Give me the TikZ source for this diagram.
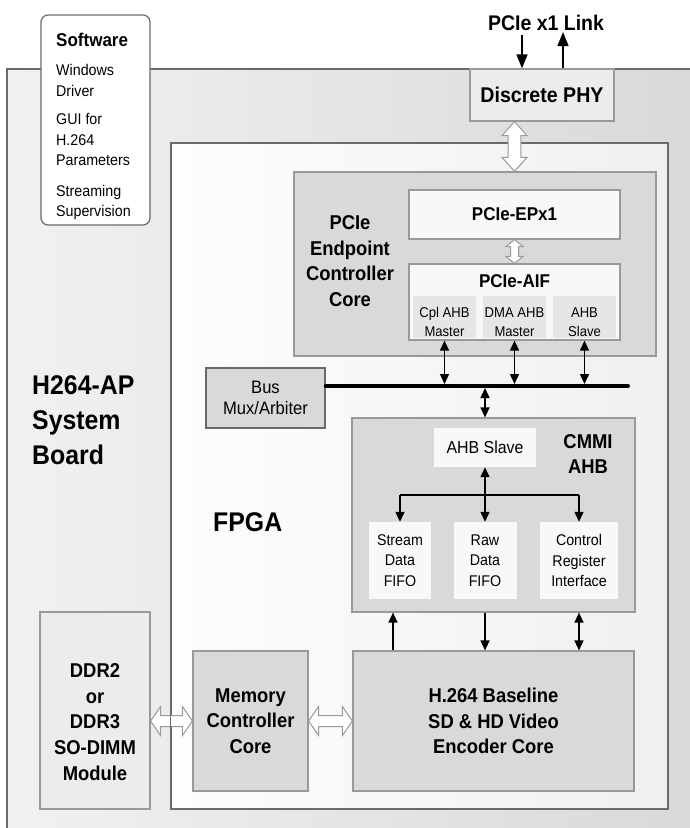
\documentclass[tikz,border=0pt]{standalone}
\usepackage{fontspec}
\setmainfont{Liberation Sans}[FakeStretch=0.92]
\usetikzlibrary{arrows.meta,calc}

\definecolor{boardL}{HTML}{F1F1F1}
\definecolor{boardR}{HTML}{D8D8D8}
\definecolor{fpgaL}{HTML}{FDFDFD}
\definecolor{fpgaR}{HTML}{F0F0F0}
\definecolor{coregray}{HTML}{D9D9D9}
\definecolor{lightgray}{HTML}{ECECEC}
\definecolor{subgray}{HTML}{E6E6E6}
\definecolor{paper}{HTML}{F8F8F8}
\definecolor{edgedark}{HTML}{6A6A6A}
\definecolor{edgemid}{HTML}{999999}

% vertical hollow double arrow: start (upper), end (lower), half shaft, half head, head length
\newcommand{\hollowV}[5]{%
  \draw[hollow] let \p1=(#1), \p2=(#2) in
    (\x1,\y1) -- (\x1+#4,\y1-#5) -- (\x1+#3,\y1-#5) -- (\x1+#3,\y2+#5) -- (\x1+#4,\y2+#5)
    -- (\x1,\y2) -- (\x1-#4,\y2+#5) -- (\x1-#3,\y2+#5) -- (\x1-#3,\y1-#5) -- (\x1-#4,\y1-#5) -- cycle;}
% horizontal hollow double arrow: start (left), end (right), half shaft, half head, head length
\newcommand{\hollowH}[5]{%
  \draw[hollow] let \p1=(#1), \p2=(#2) in
    (\x1,\y1) -- (\x1+#5,\y1+#4) -- (\x1+#5,\y1+#3) -- (\x2-#5,\y1+#3) -- (\x2-#5,\y1+#4)
    -- (\x2,\y1) -- (\x2-#5,\y1-#4) -- (\x2-#5,\y1-#3) -- (\x1+#5,\y1-#3) -- (\x1+#5,\y1-#4) -- cycle;}

\tikzset{
  blk/.style={draw=edgemid, line width=1.2pt, inner sep=0pt, align=center},
  flat/.style={inner sep=0pt, align=center},
  txt/.style={inner sep=0pt, align=center},
  bigbold/.style={font=\fontsize{27}{35}\selectfont\bfseries},
  hdbold/.style={font=\fontsize{20}{25.7}\selectfont\bfseries},
  bodytxt/.style={font=\fontsize{15.5}{20.5}\selectfont},
  smalltxt/.style={font=\fontsize{14.2}{19}\selectfont},
  bustxt/.style={font=\fontsize{18}{21}\selectfont},
  hollow/.style={draw=edgemid, fill=white, line width=1pt, line join=miter},
  wire/.style={line width=1.4pt},
  arr/.style={wire, -{Triangle[length=10pt,width=9pt]}},
  darr/.style={wire, {Triangle[length=10pt,width=9pt]}-{Triangle[length=10pt,width=9pt]}},
  linkarr/.style={wire, -{Triangle[length=14pt,width=11pt]}},
  busline/.style={line width=4pt, line cap=round},
}

\begin{document}
\begin{tikzpicture}[x=1pt,y=-1pt]
\useasboundingbox (0,0) rectangle (690,828);
\clip (0,0) rectangle (690,828);

% system board
\node[draw=edgedark, line width=1.3pt, left color=boardL, right color=boardR,
      minimum width=713pt, minimum height=791pt, inner sep=0pt] (board) at (363.5,464.5) {};
\node[bigbold, txt, align=left, anchor=west] (boardlbl) at (32,420) {H264-AP\\System\\Board};

% software box
\node[draw=edgedark, line width=1.2pt, fill=white, rounded corners=7pt,
      minimum width=109pt, minimum height=210pt, inner sep=0pt] (sw) at (95.5,120) {};
\node[bodytxt, inner sep=0pt, align=left, anchor=north west] (swtext) at (56,32.5)
  {{\fontsize{18.5}{20}\selectfont\bfseries Software}\\[9pt]
   Windows\\Driver\\[8pt]GUI for\\H.264\\Parameters\\[10pt]Streaming\\Supervision};

% PHY and link
\node[blk, fill=lightgray, draw=edgemid, minimum width=144pt, minimum height=52pt,
      font=\fontsize{21.3}{24}\selectfont\bfseries] (phy) at (542,95) {Discrete PHY};
\node[txt, font=\fontsize{21.2}{24}\selectfont\bfseries] (link) at (546,23) {PCIe x1 Link};
\coordinate (rxin) at (522,35);
\coordinate (txout) at (563,32);
\draw[linkarr] (rxin) -- (rxin |- phy.north);
\draw[linkarr] (txout |- phy.north) -- (txout);

% FPGA
\node[draw=edgedark, line width=1.3pt, left color=fpgaL, right color=fpgaR,
      minimum width=497pt, minimum height=666pt, inner sep=0pt] (fpga) at (419.5,476) {};
\node[bigbold, txt, anchor=west] (fpgalbl) at (213,522) {FPGA};

% PCIe endpoint controller core
\node[blk, fill=coregray, minimum width=362pt, minimum height=184pt] (pcore) at (475,264) {};
\node[hdbold, txt] (pcorelbl) at (350,261) {PCIe\\Endpoint\\Controller\\Core};
\node[blk, fill=paper, minimum width=211pt, minimum height=49pt,
      font=\fontsize{18.5}{22}\selectfont\bfseries] (epx1) at (514.5,214.5) {PCIe-EPx1};
\node[blk, fill=paper, minimum width=211pt, minimum height=76pt] (aif) at (514.5,302) {};
\node[txt, font=\fontsize{18.5}{22}\selectfont\bfseries] (aiflbl) at (514.5,281) {PCIe-AIF};
\node[flat, fill=subgray, minimum width=63pt, minimum height=42pt] (cpl) at (444.5,317) {};
\node[flat, fill=subgray, minimum width=63pt, minimum height=42pt] (dma) at (514.5,317) {};
\node[flat, fill=subgray, minimum width=63pt, minimum height=42pt] (ahbm) at (584.5,317) {};
\node[smalltxt, txt] (cpltxt) at ($(cpl.center)+(0,5)$) {Cpl AHB\\Master};
\node[smalltxt, txt] (dmatxt) at ($(dma.center)+(0,5)$) {DMA AHB\\Master};
\node[smalltxt, txt] (ahbmtxt) at ($(ahbm.center)+(0,5)$) {AHB\\Slave};

% bus and arbiter
\node[draw=edgedark, line width=1.4pt, fill=coregray, minimum width=119pt, minimum height=60pt,
      inner sep=0pt, align=center, bustxt] (busmux) at (265.5,398) {Bus\\Mux/Arbiter};
\coordinate (busR) at (628,386);
\draw[busline] (busmux.east |- busR) -- (busR);
\draw[darr, shorten >=2pt] (cpl.south |- aif.south) -- (cpl.south |- busR);
\draw[darr, shorten >=2pt] (dma.south |- aif.south) -- (dma.south |- busR);
\draw[darr, shorten >=2pt] (ahbm.south |- aif.south) -- (ahbm.south |- busR);

% CMMI AHB
\node[blk, fill=coregray, minimum width=283pt, minimum height=194pt] (cmmi) at (493.5,515) {};
\node[hdbold, txt] (cmmilbl) at (588,454) {CMMI\\AHB};
\node[flat, fill=paper, minimum width=102pt, minimum height=39pt,
      font=\fontsize{17.3}{20}\selectfont] (ahbs) at (485,447.5) {AHB Slave};
\node[flat, fill=paper, minimum width=62pt, minimum height=77pt, bodytxt] (sfifo) at (400,560.5) {Stream\\Data\\FIFO};
\node[flat, fill=paper, minimum width=63pt, minimum height=77pt, bodytxt] (rfifo) at (485,560.5) {Raw\\Data\\FIFO};
\node[flat, fill=paper, minimum width=78pt, minimum height=77pt, bodytxt] (ctrl) at (579,560.5) {Control\\Register\\Interface};
\draw[darr, shorten <=2pt] (ahbs.north |- busR) -- (ahbs.north |- cmmi.north);
\draw[darr] (ahbs.south) -- (rfifo.north);
\coordinate (junc) at (485,495);
\draw[wire] (sfifo.north |- junc) -- (ctrl.north |- junc);
\draw[arr] (sfifo.north |- junc) -- (sfifo.north);
\draw[arr] (ctrl.north |- junc) -- (ctrl.north);

% memory, encoder
\node[draw=edgemid, line width=1.2pt, fill=lightgray, minimum width=110pt, minimum height=197pt, inner sep=0pt] (ddr) at (95,710.5) {};
\node[hdbold, txt] (ddrtxt) at (95,722) {DDR2\\or\\DDR3\\SO-DIMM\\Module};
\node[blk, fill=coregray, minimum width=115pt, minimum height=140pt, hdbold] (memc) at (250.5,721) {Memory\\Controller\\Core};
\node[blk, fill=coregray, minimum width=281pt, minimum height=140pt, hdbold] (enc) at (493.5,721) {H.264 Baseline\\SD \& HD Video\\Encoder Core};

\coordinate (sfx) at (393,630);
\draw[arr] (sfx |- enc.north) -- (sfx |- cmmi.south);
\draw[arr] (rfifo.south |- cmmi.south) -- (rfifo.south |- enc.north);
\draw[darr] (ctrl.south |- cmmi.south) -- (ctrl.south |- enc.north);

% wide data paths
\hollowV{epx1.north |- phy.south}{epx1.north |- pcore.north}{6.3pt}{12.5pt}{14pt}
\hollowV{epx1.south}{aif.north}{4pt}{8.5pt}{7pt}
\hollowH{ddr.east |- memc.west}{memc.west}{5.5pt}{14.5pt}{10pt}
\hollowH{memc.east}{enc.west}{5.5pt}{14.5pt}{10pt}
\draw[draw=edgedark, line width=1.3pt] (fpga.north west) -- (fpga.south west);
\end{tikzpicture}
\end{document}
